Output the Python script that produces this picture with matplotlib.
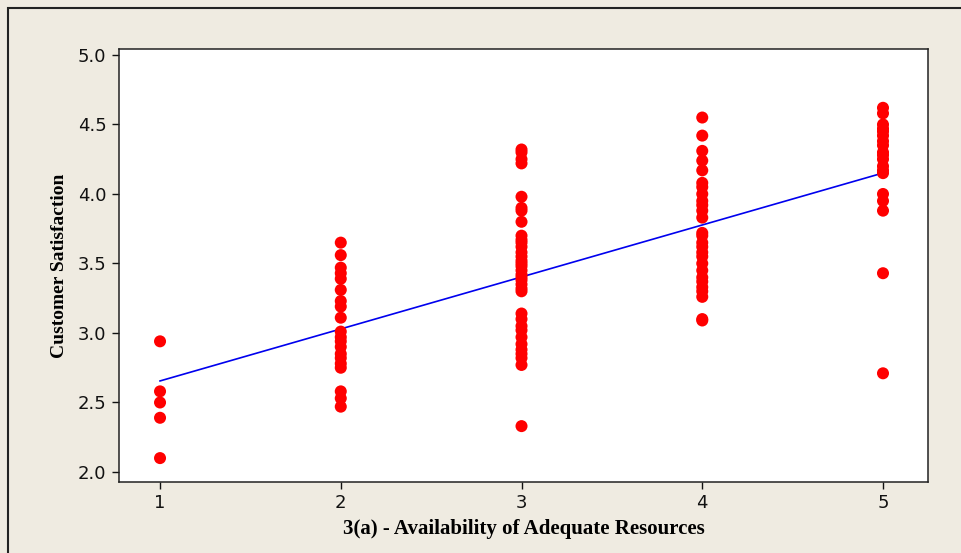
import numpy as np
import matplotlib
matplotlib.use("Agg")
import matplotlib.pyplot as plt
from matplotlib.patches import Rectangle

# readings of the scatter, one list per x category
sat_1 = [2.94, 2.58, 2.50, 2.39, 2.10]
sat_2 = [3.65, 3.56, 3.47, 3.43, 3.39, 3.31, 3.23, 3.19, 3.11, 3.01,
         2.97, 2.94, 2.90, 2.85, 2.82, 2.78, 2.75, 2.58, 2.53, 2.47]
sat_3 = [4.32, 4.30, 4.25, 4.22, 3.98, 3.90, 3.88, 3.80, 3.70, 3.67,
         3.65, 3.62, 3.58, 3.55, 3.52, 3.50, 3.48, 3.45, 3.42, 3.40,
         3.38, 3.35, 3.32, 3.30, 3.14, 3.10, 3.05, 3.02, 2.97, 2.92,
         2.88, 2.85, 2.82, 2.77, 2.33]
sat_4 = [4.55, 4.42, 4.31, 4.24, 4.17, 4.08, 4.05, 4.00, 3.95, 3.92,
         3.88, 3.83, 3.72, 3.70, 3.65, 3.62, 3.58, 3.55, 3.50, 3.45,
         3.40, 3.37, 3.33, 3.30, 3.26, 3.10, 3.09]
sat_5 = [4.62, 4.58, 4.50, 4.47, 4.45, 4.42, 4.38, 4.35, 4.30, 4.28,
         4.25, 4.20, 4.17, 4.15, 4.00, 3.95, 3.88, 3.43, 2.71]

levels = [1, 2, 3, 4, 5]
columns = [sat_1, sat_2, sat_3, sat_4, sat_5]

# fitted line
fit_intercept = 2.281
fit_slope = 0.374

xs = np.concatenate([[lv] * len(c) for lv, c in zip(levels, columns)])
ys = np.concatenate(columns)

bg = "#efebe1"
fig = plt.figure(figsize=(9.62, 5.53), dpi=100, facecolor=bg)
fig.patches.append(Rectangle((8 / 962, -0.01), 1.0, 1 - 8 / 553 + 0.01,
                             transform=fig.transFigure, fill=False,
                             edgecolor="#222222", linewidth=1.5))

ax = fig.add_axes([119 / 962, 1 - 482 / 553, (928 - 119) / 962, (482 - 49) / 553])
ax.set_facecolor("white")

ax.scatter(xs, ys, s=75, color="#ff0000", edgecolors="none", zorder=3)
line_x = np.array([1, 5])
ax.plot(line_x, fit_intercept + fit_slope * line_x, color="#0000ee",
        linewidth=1.2, zorder=2)

ax.set_xlim(0.773, 5.249)
ax.set_ylim(1.928, 5.043)
ax.set_xticks(levels)
ax.set_yticks([2.0, 2.5, 3.0, 3.5, 4.0, 4.5, 5.0])
ax.set_yticklabels(["2.0", "2.5", "3.0", "3.5", "4.0", "4.5", "5.0"])
ax.tick_params(direction="out", length=5, width=1, labelsize=13,
               colors="#111111", pad=4)
for sp in ax.spines.values():
    sp.set_linewidth(1.1)
    sp.set_color("#222222")

ax.set_xlabel("3(a) - Availability of Adequate Resources",
              family="Liberation Serif", weight="bold", fontsize=15,
              labelpad=5)
ax.set_ylabel("Customer Satisfaction", family="Liberation Serif",
              weight="bold", fontsize=14, labelpad=7)

fig.savefig("out.png", dpi=100, facecolor=bg)
